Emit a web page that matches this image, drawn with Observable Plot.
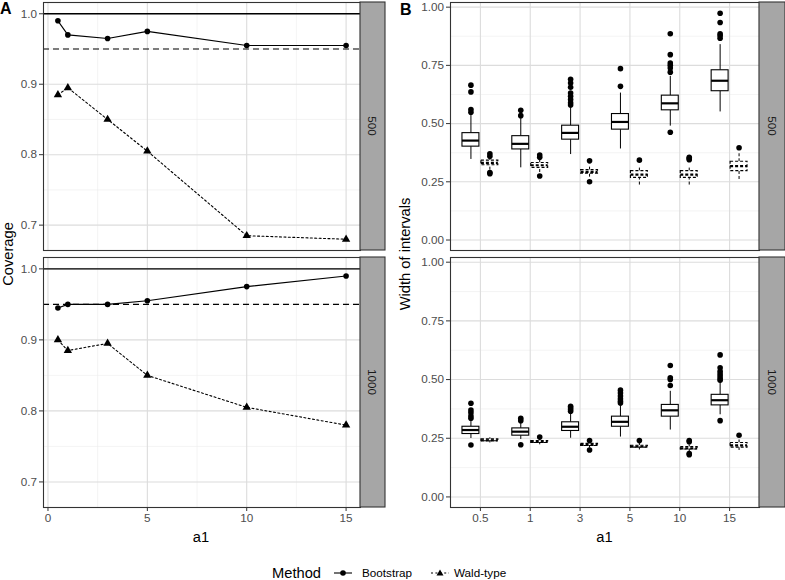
<!DOCTYPE html>
<html>
<head>
<meta charset="utf-8">
<script src="https://cdn.jsdelivr.net/npm/d3@7"></script>
<script src="https://cdn.jsdelivr.net/npm/@observablehq/plot@0.6"></script>
<style>
  body { margin: 0; background: white; }
  #wrap { position: relative; width: 785px; height: 580px; background: white; font-family: "Liberation Sans", Arial, sans-serif; overflow: hidden; }
  .abs { position: absolute; }
</style>
</head>
<body>
<div id="wrap"></div>
<script>
// ---------- DATA ----------
const a1Values = [0.5, 1, 3, 5, 10, 15];
const a1Labels = ["0.5", "1", "3", "5", "10", "15"];
const sampleSizes = ["500", "1000"];
const methods = ["Bootstrap", "Wald-type"];

// Panel A: coverage
const covBoot500  = [0.99, 0.97, 0.965, 0.975, 0.955, 0.955];
const covWald500  = [0.885, 0.895, 0.85, 0.805, 0.685, 0.68];
const covBoot1000 = [0.945, 0.95, 0.95, 0.955, 0.975, 0.99];
const covWald1000 = [0.90, 0.885, 0.895, 0.85, 0.805, 0.78];
const refLines = [1.0, 0.95];

// Panel B: width of intervals, five-number summaries [lowerWhisker, Q1, median, Q3, upperWhisker]
const boot500Stats = [
  [0.346, 0.401, 0.427, 0.459, 0.539],
  [0.310, 0.389, 0.413, 0.446, 0.524],
  [0.367, 0.431, 0.460, 0.491, 0.570],
  [0.391, 0.474, 0.507, 0.541, 0.631],
  [0.489, 0.557, 0.587, 0.620, 0.703],
  [0.550, 0.639, 0.684, 0.729, 0.839]
];
const boot500Outliers = [
  [0.549, 0.560, 0.636, 0.665],
  [0.534, 0.557],
  [0.580, 0.589, 0.603, 0.617, 0.631, 0.656, 0.674, 0.690],
  [0.660, 0.736],
  [0.463, 0.721, 0.739, 0.750, 0.760, 0.796, 0.886],
  [0.867, 0.878, 0.886, 0.934, 0.974]
];
const wald500Stats = [
  [0.300, 0.321, 0.331, 0.341, 0.355],
  [0.290, 0.310, 0.321, 0.331, 0.350],
  [0.270, 0.285, 0.293, 0.300, 0.320],
  [0.236, 0.267, 0.281, 0.296, 0.310],
  [0.236, 0.267, 0.281, 0.296, 0.314],
  [0.260, 0.296, 0.317, 0.336, 0.374]
];
const wald500Outliers = [
  [0.285, 0.290, 0.360, 0.370],
  [0.275, 0.355, 0.365],
  [0.250, 0.340],
  [0.343],
  [0.345, 0.350, 0.355],
  [0.396]
];
const boot1000Stats = [
  [0.249, 0.268, 0.285, 0.299, 0.328],
  [0.245, 0.261, 0.278, 0.292, 0.315],
  [0.250, 0.281, 0.299, 0.318, 0.358],
  [0.255, 0.299, 0.320, 0.342, 0.395],
  [0.285, 0.342, 0.369, 0.392, 0.450],
  [0.350, 0.390, 0.412, 0.435, 0.490]
];
const boot1000Outliers = [
  [0.221, 0.335, 0.345, 0.359, 0.370, 0.399],
  [0.222, 0.325, 0.335],
  [0.365, 0.372, 0.380, 0.386],
  [0.400, 0.408, 0.418, 0.430, 0.443, 0.455],
  [0.475, 0.500, 0.508, 0.560],
  [0.325, 0.497, 0.505, 0.515, 0.525, 0.535, 0.550, 0.605]
];
const wald1000Stats = [
  [0.230, 0.237, 0.241, 0.245, 0.252],
  [0.222, 0.230, 0.234, 0.238, 0.245],
  [0.208, 0.217, 0.222, 0.226, 0.235],
  [0.200, 0.210, 0.214, 0.218, 0.228],
  [0.192, 0.202, 0.207, 0.212, 0.222],
  [0.198, 0.210, 0.220, 0.230, 0.245]
];
const wald1000Outliers = [
  [],
  [0.255],
  [0.200, 0.240],
  [0.240],
  [0.180, 0.185, 0.235, 0.240],
  [0.263]
];

// ---------- STYLE ----------
const FONT = '"Liberation Sans", Arial, sans-serif';
const GRID_MAJOR = "#DCDCDC";
const GRID_MINOR = "#ECECEC";
const BORDER = "#333333";
const TICKTXT = "#4D4D4D";

const wrap = document.getElementById("wrap");
function place(el, left, top) {
  el.classList.add("abs");
  el.style.left = left + "px";
  el.style.top = top + "px";
  wrap.appendChild(el);
}
const baseStyle = {fontFamily: FONT, fontSize: "11.7px", color: TICKTXT, background: "transparent", overflow: "visible"};

// ---------- PANEL A ----------
function coveragePanel(boot, wald, showX) {
  const rows = [];
  a1Values.forEach((a, i) => {
    rows.push({a1: a, cov: boot[i], m: methods[0]});
    rows.push({a1: a, cov: wald[i], m: methods[1]});
  });
  const b = rows.filter(d => d.m === methods[0]);
  const w = rows.filter(d => d.m === methods[1]);
  const marks = [
    Plot.ruleX([2.5, 7.5, 12.5], {stroke: GRID_MINOR, strokeWidth: 0.6}),
    Plot.ruleY([0.75, 0.85, 0.95], {stroke: GRID_MINOR, strokeWidth: 0.6}),
    Plot.ruleX([0, 5, 10, 15], {stroke: GRID_MAJOR, strokeWidth: 1.1}),
    Plot.ruleY([0.7, 0.8, 0.9, 1.0], {stroke: GRID_MAJOR, strokeWidth: 1.1}),
    Plot.ruleY([refLines[0]], {stroke: "black", strokeWidth: 1.3}),
    Plot.ruleY([refLines[1]], {stroke: "black", strokeWidth: 1.1, strokeDasharray: "6,4"}),
    Plot.line(b, {x: "a1", y: "cov", stroke: "black", strokeWidth: 1.1}),
    Plot.line(w, {x: "a1", y: "cov", stroke: "black", strokeWidth: 1.1, strokeDasharray: "2,2.4"}),
    Plot.dot(b, {x: "a1", y: "cov", r: 2.8, fill: "black", symbol: "circle"}),
    Plot.dot(w, {x: "a1", y: "cov", r: 3.1, fill: "black", symbol: "triangle"}),
    Plot.frame({stroke: BORDER, strokeWidth: 1.1}),
    Plot.axisY({ticks: [0.7, 0.8, 0.9, 1.0], tickFormat: d3.format(".1f"), tickSize: 4, tickPadding: 2.5, label: null, stroke: BORDER, fill: TICKTXT})
  ];
  if (showX) marks.push(Plot.axisX({ticks: [0, 5, 10, 15], tickSize: 4, tickPadding: 2, label: null, stroke: BORDER, fill: TICKTXT}));
  return Plot.plot({
    width: 360, height: showX ? 285 : 250,
    marginLeft: 43, marginRight: 0, marginTop: 2, marginBottom: showX ? 33 : 0,
    x: {domain: [-0.225, 15.725], axis: showX ? undefined : null},
    y: {domain: [0.664, 1.016]},
    style: baseStyle,
    marks
  });
}

// ---------- PANEL B ----------
const OFFSET = 0.19, HALF = 0.17;
function widthPanel(bStats, bOut, wStats, wOut, showX) {
  const rows = [], outs = [];
  [[methods[0], bStats, bOut, -OFFSET], [methods[1], wStats, wOut, OFFSET]].forEach(([m, st, ou, off]) => {
    st.forEach((s, i) => {
      const pos = i + off;
      rows.push({m, pos, lo: s[0], q1: s[1], med: s[2], q3: s[3], hi: s[4]});
      ou[i].forEach(v => outs.push({m, pos, v}));
    });
  });
  const boxMarks = (m, dash) => {
    const r = rows.filter(d => d.m === m);
    return [
      Plot.ruleX(r, {x: "pos", y1: "lo", y2: "q1", stroke: "black", strokeWidth: 1, strokeDasharray: dash}),
      Plot.ruleX(r, {x: "pos", y1: "q3", y2: "hi", stroke: "black", strokeWidth: 1, strokeDasharray: dash}),
      Plot.rect(r, {x1: d => d.pos - HALF, x2: d => d.pos + HALF, y1: "q1", y2: "q3", fill: "white", stroke: "black", strokeWidth: 1.1, strokeDasharray: dash}),
      Plot.ruleY(r, {y: "med", x1: d => d.pos - HALF, x2: d => d.pos + HALF, stroke: "black", strokeWidth: 2.2, strokeDasharray: dash}),
      Plot.dot(outs.filter(d => d.m === m), {x: "pos", y: "v", r: 2.8, fill: "black"})
    ];
  };
  const marks = [
    Plot.ruleY([0.125, 0.375, 0.625, 0.875], {stroke: GRID_MINOR, strokeWidth: 0.6}),
    Plot.ruleY([0, 0.25, 0.5, 0.75, 1], {stroke: GRID_MAJOR, strokeWidth: 1.1}),
    Plot.ruleX(d3.range(a1Labels.length), {stroke: GRID_MAJOR, strokeWidth: 1.1}),
    ...boxMarks(methods[0], null),
    ...boxMarks(methods[1], "3,2"),
    Plot.frame({stroke: BORDER, strokeWidth: 1.1}),
    Plot.axisY({ticks: [0, 0.25, 0.5, 0.75, 1], tickFormat: d3.format(".2f"), tickSize: 4, tickPadding: 2.5, label: null, stroke: BORDER, fill: TICKTXT})
  ];
  if (showX) marks.push(Plot.axisX({ticks: d3.range(a1Labels.length), tickFormat: i => a1Labels[i], tickSize: 4, tickPadding: 2, label: null, stroke: BORDER, fill: TICKTXT}));
  return Plot.plot({
    width: 359, height: showX ? 285 : 250,
    marginLeft: 50, marginRight: 0, marginTop: 2, marginBottom: showX ? 33 : 0,
    x: {domain: [-0.6, a1Labels.length - 0.4], axis: showX ? undefined : null},
    y: {domain: [-0.045, 1.02]},
    style: baseStyle,
    marks
  });
}

place(coveragePanel(covBoot500, covWald500, false), 0, 0);
place(coveragePanel(covBoot1000, covWald1000, true), 0, 255);
place(widthPanel(boot500Stats, boot500Outliers, wald500Stats, wald500Outliers, false), 400, 0);
place(widthPanel(boot1000Stats, boot1000Outliers, wald1000Stats, wald1000Outliers, true), 400, 255);

// ---------- OVERLAY: strips, titles, legend ----------
const NS = "http://www.w3.org/2000/svg";
const ov = document.createElementNS(NS, "svg");
ov.setAttribute("width", 785); ov.setAttribute("height", 580);
ov.style.position = "absolute"; ov.style.left = "0px"; ov.style.top = "0px";
ov.setAttribute("font-family", FONT);
wrap.appendChild(ov);
function el(tag, attrs, text) {
  const e = document.createElementNS(NS, tag);
  for (const k in attrs) e.setAttribute(k, attrs[k]);
  if (text != null) { e.textContent = text; e.setAttribute("font-family", FONT); }
  ov.appendChild(e);
  return e;
}
const panelRows = [[2, 250], [257, 507]];
[[360, 385], [759, 785]].forEach(([x0, x1]) => {
  panelRows.forEach(([y0, y1], k) => {
    el("rect", {x: x0, y: y0, width: x1 - x0, height: y1 - y0, fill: "#A6A6A6", stroke: BORDER, "stroke-width": 1.1});
    el("text", {transform: `translate(${(x0 + x1) / 2},${(y0 + y1) / 2}) rotate(90)`, "text-anchor": "middle", dy: "0.35em", "font-size": 11.7, fill: "#1A1A1A"}, sampleSizes[k]);
  });
});
el("text", {x: 0, y: 14, "font-size": 16, "font-weight": "bold", fill: "black"}, "A");
el("text", {x: 400, y: 15, "font-size": 16, "font-weight": "bold", fill: "black"}, "B");
el("text", {transform: "translate(13,254) rotate(-90)", "text-anchor": "middle", "font-size": 14.7, fill: "black"}, "Coverage");
el("text", {transform: "translate(410,254) rotate(-90)", "text-anchor": "middle", "font-size": 14.7, fill: "black"}, "Width of intervals");
el("text", {x: 201, y: 542, "text-anchor": "middle", "font-size": 14.7, fill: "black"}, "a1");
el("text", {x: 604.5, y: 542, "text-anchor": "middle", "font-size": 14.7, fill: "black"}, "a1");

// legend
const LY = 573;
el("text", {x: 272, y: LY + 5, "font-size": 14.7, fill: "black"}, "Method");
el("line", {x1: 334, x2: 352, y1: LY, y2: LY, stroke: "black", "stroke-width": 1.1});
el("circle", {cx: 343, cy: LY, r: 2.8, fill: "black"});
el("text", {x: 362, y: LY + 4, "font-size": 11.7, fill: "black"}, methods[0]);
el("line", {x1: 431, x2: 449, y1: LY, y2: LY, stroke: "black", "stroke-width": 1.1, "stroke-dasharray": "2,2.4"});
el("path", {d: `M440,${LY - 3.5} L443.5,${LY + 2.5} L436.5,${LY + 2.5} Z`, fill: "black"});
el("text", {x: 454, y: LY + 4, "font-size": 11.7, fill: "black"}, methods[1]);
</script>
</body>
</html>
